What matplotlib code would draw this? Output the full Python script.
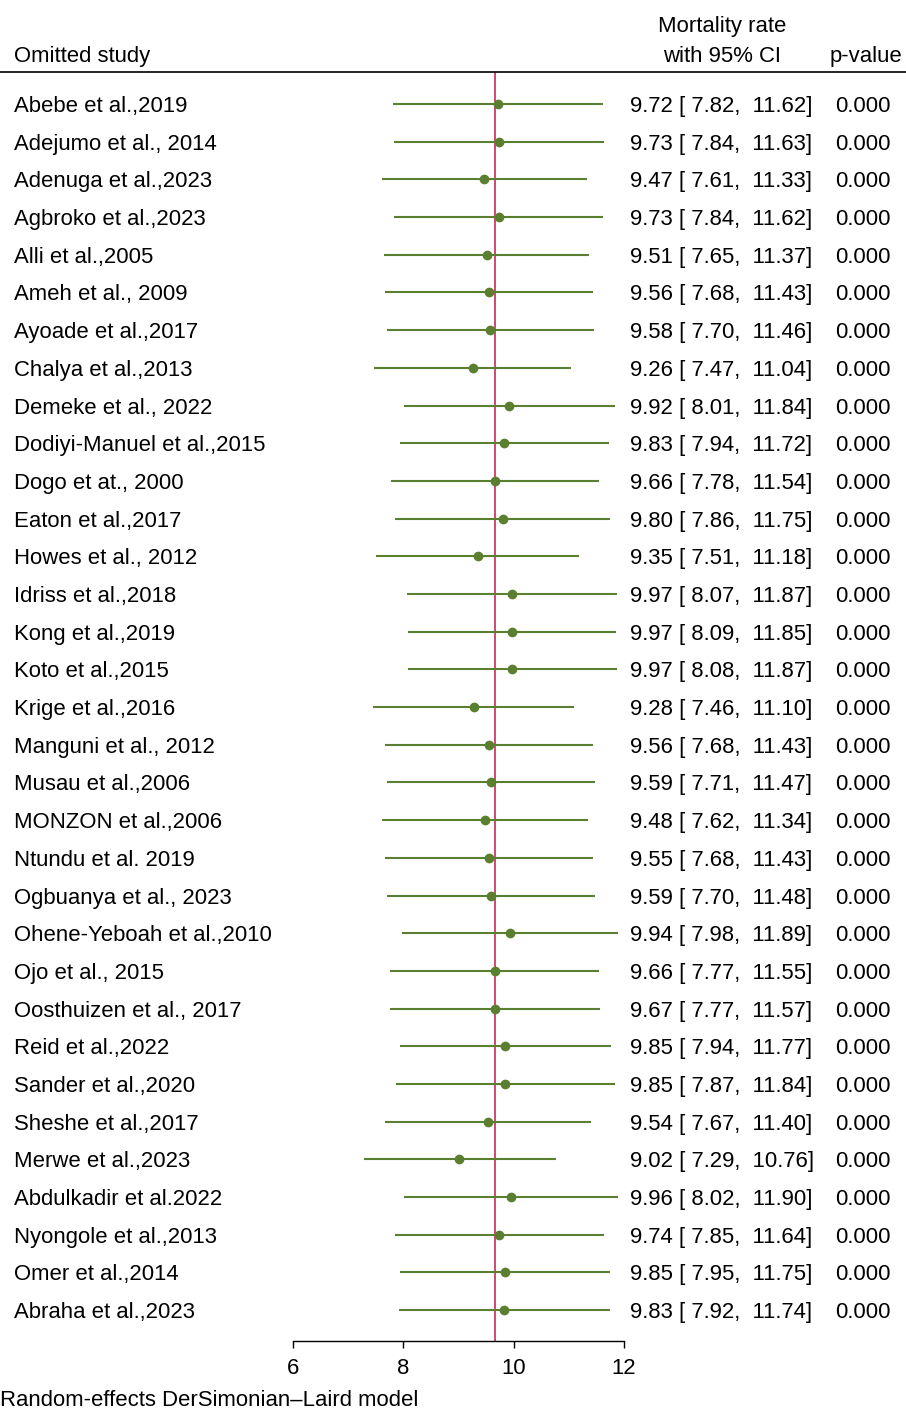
import matplotlib
matplotlib.use("Agg")
import matplotlib.pyplot as plt
from matplotlib.transforms import blended_transform_factory
from matplotlib.lines import Line2D

plt.rcParams['font.family'] = ['Liberation Sans', 'DejaVu Sans']

studies = [
    "Abebe et al.,2019", "Adejumo et al., 2014", "Adenuga et al.,2023",
    "Agbroko et al.,2023", "Alli et al.,2005", "Ameh et al., 2009",
    "Ayoade et al.,2017", "Chalya et al.,2013", "Demeke et al., 2022",
    "Dodiyi-Manuel et al.,2015", "Dogo et at., 2000", "Eaton et al.,2017",
    "Howes et al., 2012", "Idriss et al.,2018", "Kong et al.,2019",
    "Koto et al.,2015", "Krige et al.,2016", "Manguni et al., 2012",
    "Musau et al.,2006", "MONZON et al.,2006", "Ntundu et al. 2019",
    "Ogbuanya et al., 2023", "Ohene-Yeboah et al.,2010", "Ojo et al., 2015",
    "Oosthuizen et al., 2017", "Reid et al.,2022", "Sander et al.,2020",
    "Sheshe et al.,2017", "Merwe et al.,2023", "Abdulkadir et al.2022",
    "Nyongole et al.,2013", "Omer et al.,2014", "Abraha et al.,2023",
]
estimate = [9.72, 9.73, 9.47, 9.73, 9.51, 9.56, 9.58, 9.26, 9.92, 9.83, 9.66,
            9.80, 9.35, 9.97, 9.97, 9.97, 9.28, 9.56, 9.59, 9.48, 9.55, 9.59,
            9.94, 9.66, 9.67, 9.85, 9.85, 9.54, 9.02, 9.96, 9.74, 9.85, 9.83]
lower = [7.82, 7.84, 7.61, 7.84, 7.65, 7.68, 7.70, 7.47, 8.01, 7.94, 7.78,
         7.86, 7.51, 8.07, 8.09, 8.08, 7.46, 7.68, 7.71, 7.62, 7.68, 7.70,
         7.98, 7.77, 7.77, 7.94, 7.87, 7.67, 7.29, 8.02, 7.85, 7.95, 7.92]
upper = [11.62, 11.63, 11.33, 11.62, 11.37, 11.43, 11.46, 11.04, 11.84, 11.72,
         11.54, 11.75, 11.18, 11.87, 11.85, 11.87, 11.10, 11.43, 11.47, 11.34,
         11.43, 11.48, 11.89, 11.55, 11.57, 11.77, 11.84, 11.40, 10.76, 11.90,
         11.64, 11.75, 11.74]
p_values = ["0.000"] * len(studies)
overall = 9.66

green = '#5b7f30'
red = '#cc3a66'
fs = 15.9

W, H = 906, 1410
fig = plt.figure(figsize=(W / 100, H / 100), dpi=100)
ax = fig.add_axes([292.7 / W, (H - 1341) / H, (624 - 292.7) / W, (1341 - 72) / H])

rows = list(range(len(studies)))
ax.hlines(rows, lower, upper, color=green, lw=1.5, zorder=2)
ax.plot(estimate, rows, 'o', color=green, ms=6, zorder=3)
ax.axvline(overall, color=red, lw=1.3, zorder=1)

ax.set_xlim(6, 12)
ax.set_ylim(len(studies) - 1 + 0.82, -0.85)
ax.set_xticks([6, 8, 10, 12])
ax.tick_params(axis='x', length=5, width=1, labelsize=fs, pad=7)
ax.set_yticks([])
for s in ['top', 'left', 'right']:
    ax.spines[s].set_visible(False)
ax.spines['bottom'].set_linewidth(1)

tr = blended_transform_factory(fig.transFigure, ax.transData)
for i in rows:
    ax.text(14 / W, i, studies[i], transform=tr, ha='left', va='center_baseline', fontsize=fs)
    ci = f"{estimate[i]:.2f} [ {lower[i]:.2f},  {upper[i]:.2f}]"
    ax.text(630 / W, i, ci, transform=tr, ha='left', va='center_baseline', fontsize=fs)
    ax.text(863 / W, i, p_values[i], transform=tr, ha='center', va='center_baseline', fontsize=fs)

# header
fig.text(14 / W, 1 - 54 / H, "Omitted study", ha='left', va='center_baseline', fontsize=fs)
fig.text(722 / W, 1 - 24 / H, "Mortality rate", ha='center', va='center_baseline', fontsize=fs)
fig.text(722 / W, 1 - 54 / H, "with 95% CI", ha='center', va='center_baseline', fontsize=fs)
fig.text(866 / W, 1 - 54 / H, "p-value", ha='center', va='center_baseline', fontsize=fs)
fig.add_artist(Line2D([0, 1], [1 - 72 / H, 1 - 72 / H], transform=fig.transFigure,
                      color='black', lw=1.2))

fig.text(0, 1 - 1398 / H, "Random-effects DerSimonian\u2013Laird model",
         ha='left', va='center_baseline', fontsize=fs)

fig.savefig("out.png", dpi=100)
